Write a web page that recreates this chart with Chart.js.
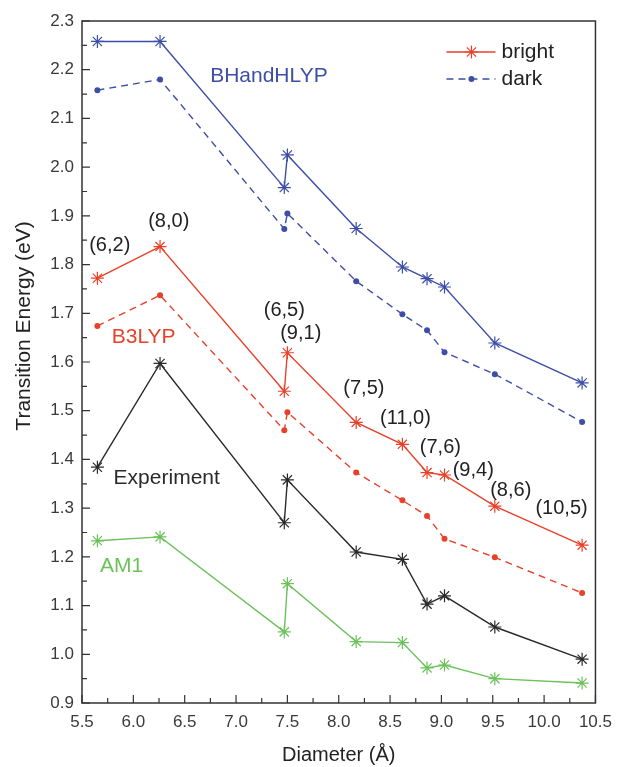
<!DOCTYPE html>
<html>
<head>
<meta charset="utf-8">
<script src="https://cdn.jsdelivr.net/npm/chart.js@4"></script>
<style>
  html, body { margin: 0; padding: 0; background: #fff; }
</style>
</head>
<body>
<canvas id="chart" width="621" height="767"></canvas>
<script>
// nanotube chiralities, ordered by diameter (Angstrom)
const chirality = ["(6,2)", "(8,0)", "(6,5)", "(9,1)", "(7,5)", "(11,0)", "(7,6)", "(9,4)", "(8,6)", "(10,5)"];
const diameter = [5.65, 6.26, 7.47, 7.50, 8.17, 8.62, 8.86, 9.03, 9.52, 10.37];

// transition energies (eV)
const bhBright = [2.258, 2.258, 1.958, 2.025, 1.874, 1.795, 1.771, 1.754, 1.639, 1.557];
const bhDark = [2.158, 2.180, 1.873, 1.905, 1.766, 1.698, 1.665, 1.620, 1.575, 1.477];
const b3Bright = [1.772, 1.837, 1.540, 1.619, 1.476, 1.431, 1.373, 1.368, 1.304, 1.224];
const b3Dark = [1.674, 1.737, 1.460, 1.497, 1.373, 1.316, 1.284, 1.237, 1.199, 1.126];
const experiment = [1.384, 1.597, 1.270, 1.358, 1.210, 1.195, 1.103, 1.120, 1.056, 0.990];
const am1 = [1.233, 1.241, 1.046, 1.145, 1.026, 1.024, 0.972, 0.978, 0.950, 0.941];

// where the text labels sit, in data units
const chiralX = [5.77, 6.345, 7.47, 7.63, 8.245, 8.65, 8.99, 9.31, 9.675, 10.17];
const chiralY = [1.840, 1.889, 1.705, 1.659, 1.546, 1.485, 1.425, 1.378, 1.337, 1.300];
const methodNames = ["BHandHLYP", "B3LYP", "Experiment", "AM1"];
const methodX = [7.32, 6.10, 6.325, 5.885];
const methodY = [2.187, 1.651, 1.362, 1.181];

const BLUE = "#3d4ea6";
const RED = "#e8412a";
const BLACK = "#2a2a2a";
const GREEN = "#6cc25a";
const methodColors = [BLUE, RED, BLACK, GREEN];
const FONT = "'Liberation Sans', Arial, sans-serif";

const pts = ys => diameter.map((x, i) => ({ x: x, y: ys[i] }));

const bright = (label, ys, color) => ({
  label: label, data: pts(ys), borderColor: color, backgroundColor: color,
  borderWidth: 1.4, pointStyle: "star", pointRadius: 6.5, pointBorderWidth: 1.2, tension: 0
});
const dark = (label, ys, color) => ({
  label: label, data: pts(ys), borderColor: color, backgroundColor: color,
  borderWidth: 1.4, borderDash: [7, 5], pointStyle: "circle", pointRadius: 3, pointBorderWidth: 0, tension: 0
});

const decor = {
  id: "decor",
  afterDraw(chart) {
    const ctx = chart.ctx;
    const { left, right, top, bottom } = chart.chartArea;
    const xs = chart.scales.x, ys = chart.scales.y;
    ctx.save();

    // frame
    ctx.strokeStyle = "#333";
    ctx.lineWidth = 1.5;
    ctx.strokeRect(left, top, right - left, bottom - top);

    // inward ticks
    ctx.lineWidth = 1.2;
    ctx.beginPath();
    for (let k = 0; k <= 20; k++) {
      const px = xs.getPixelForValue(5.5 + k * 0.25);
      const len = k % 2 === 0 ? 8 : 5;
      ctx.moveTo(px, bottom); ctx.lineTo(px, bottom - len);
    }
    for (let k = 0; k <= 28; k++) {
      const py = ys.getPixelForValue(0.9 + k * 0.05);
      const len = k % 2 === 0 ? 8 : 5;
      ctx.moveTo(left, py); ctx.lineTo(left + len, py);
    }
    ctx.stroke();

    // y title
    ctx.fillStyle = "#222";
    ctx.font = "21px " + FONT;
    ctx.textAlign = "center";
    ctx.textBaseline = "middle";
    ctx.translate(24, 326);
    ctx.rotate(-Math.PI / 2);
    ctx.fillText("Transition Energy (eV)", 0, 0);
    ctx.setTransform(1, 0, 0, 1, 0, 0);

    // chirality labels
    ctx.font = "20px " + FONT;
    ctx.fillStyle = "#222";
    chirality.forEach((c, i) => {
      ctx.fillText(c, xs.getPixelForValue(chiralX[i]), ys.getPixelForValue(chiralY[i]));
    });

    // method labels
    ctx.font = "21px " + FONT;
    methodNames.forEach((m, i) => {
      ctx.fillStyle = methodColors[i];
      ctx.fillText(m, xs.getPixelForValue(methodX[i]), ys.getPixelForValue(methodY[i]));
    });

    // legend
    const lx = right - 149, ly1 = top + 31, ly2 = top + 58;
    ctx.lineWidth = 1.5;
    ctx.strokeStyle = RED;
    ctx.beginPath(); ctx.moveTo(lx, ly1); ctx.lineTo(lx + 49, ly1); ctx.stroke();
    const cx = lx + 25, r = 6.5;
    ctx.lineWidth = 1.2;
    ctx.beginPath();
    for (let a = 0; a < 4; a++) {
      const ang = a * Math.PI / 4;
      ctx.moveTo(cx - r * Math.cos(ang), ly1 - r * Math.sin(ang));
      ctx.lineTo(cx + r * Math.cos(ang), ly1 + r * Math.sin(ang));
    }
    ctx.stroke();
    ctx.strokeStyle = BLUE;
    ctx.lineWidth = 1.5;
    ctx.setLineDash([7, 5]);
    ctx.beginPath(); ctx.moveTo(lx, ly2); ctx.lineTo(lx + 49, ly2); ctx.stroke();
    ctx.setLineDash([]);
    ctx.fillStyle = BLUE;
    ctx.beginPath(); ctx.arc(cx, ly2, 3, 0, Math.PI * 2); ctx.fill();

    ctx.fillStyle = "#222";
    ctx.font = "21px " + FONT;
    ctx.textAlign = "left";
    ctx.fillText("bright", lx + 55, ly1);
    ctx.fillText("dark", lx + 55, ly2);

    ctx.restore();
  }
};

new Chart(document.getElementById("chart"), {
  type: "line",
  data: {
    datasets: [
      bright("BHandHLYP bright", bhBright, BLUE),
      dark("BHandHLYP dark", bhDark, BLUE),
      bright("B3LYP bright", b3Bright, RED),
      dark("B3LYP dark", b3Dark, RED),
      bright("Experiment", experiment, BLACK),
      bright("AM1", am1, GREEN)
    ]
  },
  options: {
    responsive: false,
    devicePixelRatio: 1,
    animation: false,
    layout: { padding: { top: 21, right: 18, left: 0, bottom: 0 } },
    plugins: { legend: { display: false }, tooltip: { enabled: false } },
    scales: {
      x: {
        type: "linear", min: 5.5, max: 10.5,
        grid: { display: false, drawTicks: false },
        border: { display: false },
        ticks: { stepSize: 0.5, padding: 9, color: "#3a3a3a", font: { size: 17, family: FONT },
                 callback: v => v.toFixed(1) },
        title: { display: true, text: "Diameter (Å)", color: "#222", font: { size: 20, family: FONT },
                 padding: { top: 0, bottom: 0 } },
        afterFit: s => { s.height = 64; }
      },
      y: {
        type: "linear", min: 0.9, max: 2.3,
        grid: { display: false, drawTicks: false },
        border: { display: false },
        ticks: { stepSize: 0.1, padding: 8, color: "#3a3a3a", font: { size: 17, family: FONT },
                 callback: v => v.toFixed(1) },
        afterFit: s => { s.width = 82; }
      }
    }
  },
  plugins: [decor]
});
</script>
</body>
</html>
